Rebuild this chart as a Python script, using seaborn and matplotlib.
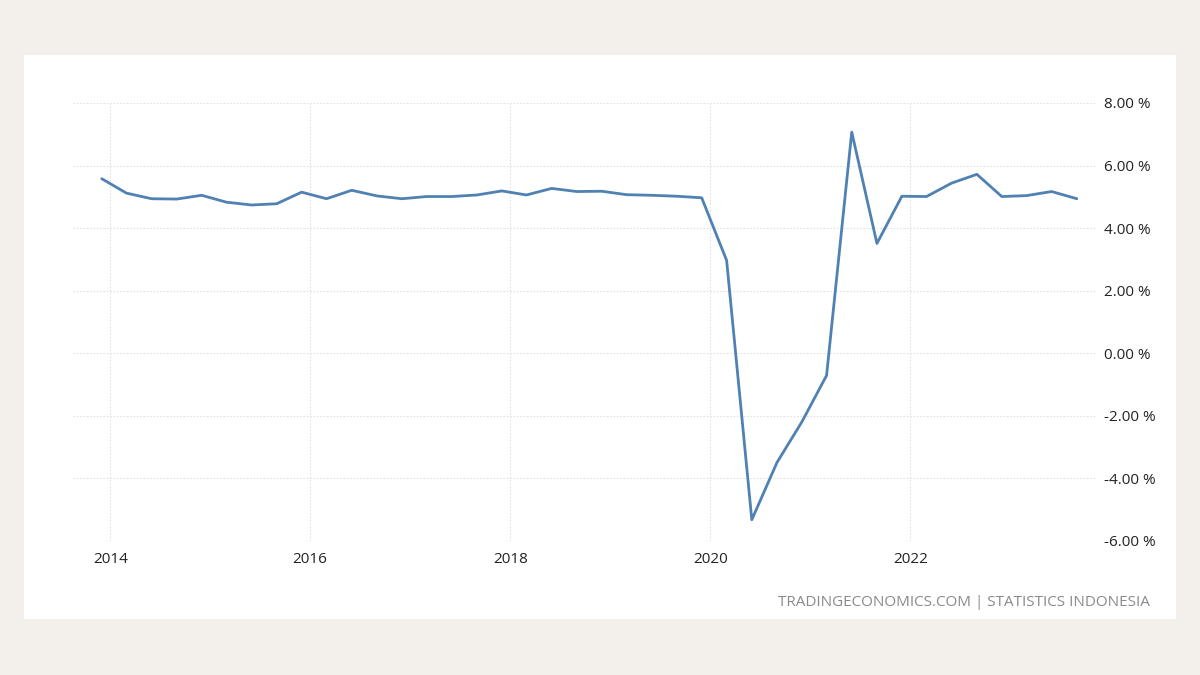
import matplotlib
matplotlib.use("Agg")
import matplotlib.pyplot as plt
from matplotlib.patches import Rectangle
import seaborn as sns
import pandas as pd

quarters = pd.date_range("2013-12-01", periods=40, freq="3MS")
growth = [5.58, 5.12, 4.94, 4.93, 5.05, 4.83, 4.74, 4.78, 5.15, 4.94,
          5.21, 5.03, 4.94, 5.01, 5.01, 5.06, 5.19, 5.06, 5.27, 5.17,
          5.18, 5.07, 5.05, 5.02, 4.97, 2.97, -5.32, -3.49, -2.19, -0.71,
          7.07, 3.51, 5.02, 5.01, 5.44, 5.72, 5.01, 5.04, 5.17, 4.94]
year_ticks = [2014, 2016, 2018, 2020, 2022]
y_ticks = [-6, -4, -2, 0, 2, 4, 6, 8]

df = pd.DataFrame({"date": quarters, "growth": growth})

sns.set_theme(style="white")
plt.rcParams["font.family"] = ["Open Sans", "DejaVu Sans"]

fig = plt.figure(figsize=(12, 6.75), dpi=100)
fig.patch.set_facecolor("#f3f0eb")
panel = Rectangle((24/1200, 1-619/675), (1176-24)/1200, (619-55)/675,
                  transform=fig.transFigure, facecolor="white",
                  edgecolor="none", zorder=-10)
fig.add_artist(panel)

ax = fig.add_axes([73/1200, 1-541/675, (1096-73)/1200, 438/675])
ax.set_facecolor("none")
ax.set_zorder(5)
sns.lineplot(data=df, x="date", y="growth", ax=ax, color="#4f81b3", linewidth=2.0)

ax.set_ylim(-6, 8)
ax.set_xlim(pd.Timestamp("2013-08-18"), pd.Timestamp("2023-11-10"))
ax.set_yticks(y_ticks)
ax.set_yticklabels([f"{v:.2f} %" for v in y_ticks])
ax.set_xticks([pd.Timestamp(f"{y}-01-01") for y in year_ticks])
ax.set_xticklabels([str(y) for y in year_ticks])
ax.yaxis.tick_right()
ax.tick_params(axis="y", length=0, pad=6, labelsize=11, labelcolor="#222222")
ax.tick_params(axis="x", length=0, pad=8, labelsize=11, labelcolor="#222222")
ax.set_xlabel("")
ax.set_ylabel("")
for s in ax.spines.values():
    s.set_visible(False)
ax.grid(True, color="#e2e2e2", linestyle=(0, (1.5, 1.5)), linewidth=0.8)
ax.set_axisbelow(True)

fig.text(1150/1200, 1-602/675, "TRADINGECONOMICS.COM | STATISTICS INDONESIA",
         ha="right", va="center", fontsize=11, color="#8a8a8a", zorder=6)

fig.savefig("out.png", dpi=100, facecolor=fig.get_facecolor())
